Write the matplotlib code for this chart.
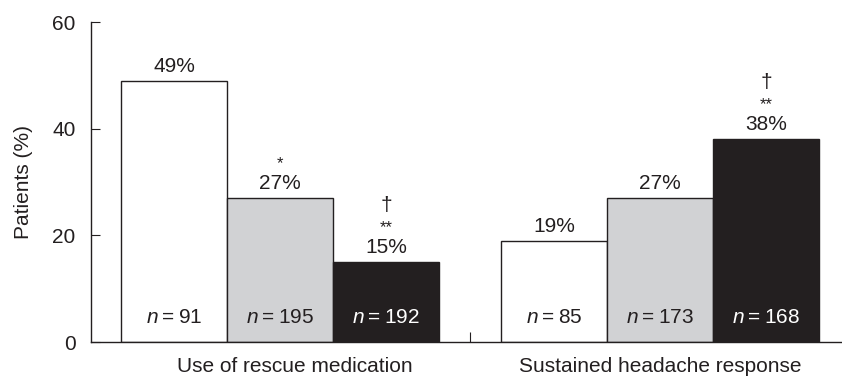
import numpy as np
import matplotlib
matplotlib.use("Agg")
import matplotlib.pyplot as plt

plt.rcParams['font.family'] = ['Liberation Sans', 'DejaVu Sans']
plt.rcParams['mathtext.fontset'] = 'custom'
plt.rcParams['mathtext.rm'] = 'Liberation Sans'
plt.rcParams['mathtext.it'] = 'Liberation Sans:italic'

categories = ["Use of rescue medication", "Sustained headache response"]
pct_white = [49, 19]
pct_gray = [27, 27]
pct_black = [15, 38]
n_white = [91, 85]
n_gray = [195, 173]
n_black = [192, 168]
# significance marks (asterisks, dagger) per bar
sig_white = [("", ""), ("", "")]
sig_gray = [("*", ""), ("", "")]
sig_black = [("**", "\u2020"), ("**", "\u2020")]

ink = '#231f20'
fs = 15

fig = plt.figure(figsize=(8.42, 3.78), dpi=100)
ax = fig.add_axes([91 / 842, 36 / 378, 751 / 842, 320 / 378])

group_x = np.array([0.0, 3.585])
series = [
    (pct_white, n_white, sig_white, 'white', ink),
    (pct_gray, n_gray, sig_gray, '#d1d2d4', ink),
    (pct_black, n_black, sig_black, ink, 'white'),
]

for k, (vals, ns, sigs, fc, tc) in enumerate(series):
    xs = group_x + k
    ax.bar(xs, vals, width=1.0, color=fc, edgecolor=ink, linewidth=1.0)
    for x, v, n, (stars, dag) in zip(xs, vals, ns, sigs):
        ax.annotate("%d%%" % v, (x, v), xytext=(0, 10.5), textcoords='offset points',
                    ha='center', va='center', fontsize=fs, color=ink)
        if stars:
            ax.annotate(stars, (x, v), xytext=(0, 25), textcoords='offset points',
                        ha='center', va='center', fontsize=12, color=ink)
        if dag:
            ax.annotate(dag, (x, v), xytext=(0, 41), textcoords='offset points',
                        ha='center', va='center', fontsize=fs, color=ink)
        ax.text(x, 4.6, "$n$\u2009=\u2009%d" % n, ha='center', va='center',
                fontsize=fs, color=tc)

ax.set_xlim(-0.783, 6.30)
ax.set_ylim(0, 60)
ax.set_yticks([0, 20, 40, 60])
ax.tick_params(axis='y', direction='in', length=6.5, labelsize=fs, pad=11,
               colors=ink)
ax.set_xticks([(group_x[0] + 2 + group_x[1]) / 2])
ax.set_xticklabels([""])
ax.tick_params(axis='x', direction='in', length=7, colors=ink)
label_shift = [0.14, 0.0]
for x, dx, c in zip(group_x + 1, label_shift, categories):
    ax.text(x + dx, -4.6, c, ha='center', va='center', fontsize=fs, color=ink,
            clip_on=False)
ax.set_ylabel("Patients (%)", fontsize=fs, color=ink, labelpad=14)

for s in ['top', 'right']:
    ax.spines[s].set_visible(False)
for s in ['left', 'bottom']:
    ax.spines[s].set_color(ink)
    ax.spines[s].set_linewidth(1.0)

fig.savefig('out.png', dpi=100)
